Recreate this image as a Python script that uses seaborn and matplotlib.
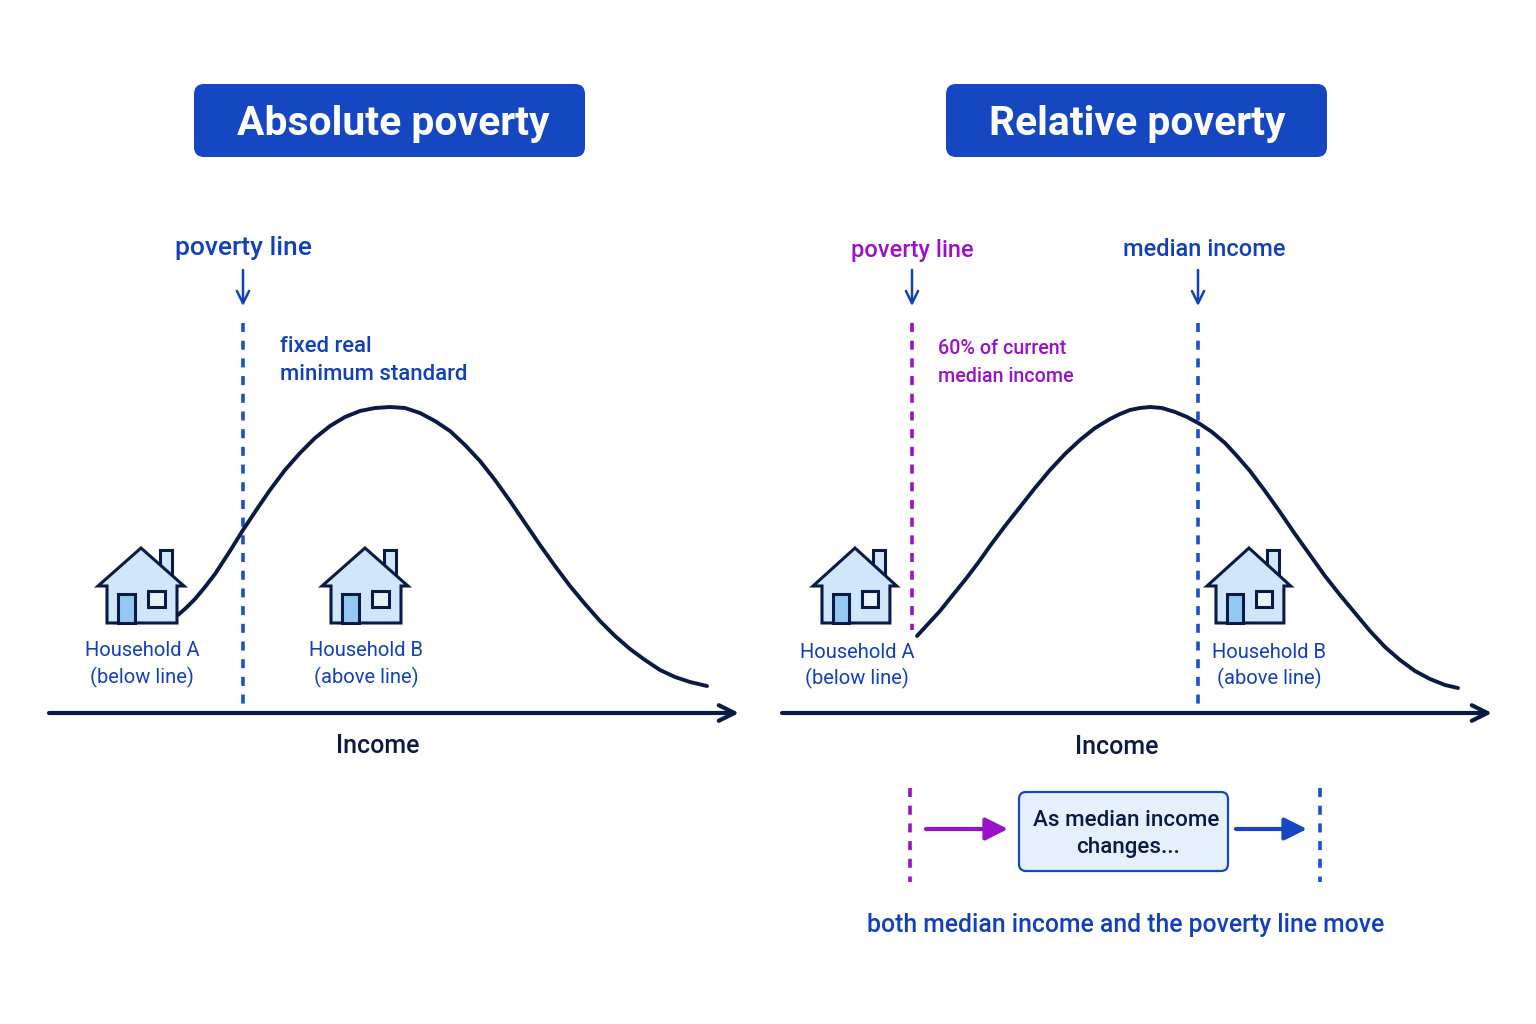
import matplotlib
matplotlib.use("Agg")
import matplotlib.pyplot as plt
import seaborn as sns
from matplotlib.patches import FancyBboxPatch, Polygon, Rectangle

# --- cores ---
NAVY = "#0b1a45"
BLUE = "#1547c0"
DASH_BLUE = "#1a4fd0"
TEXT_BLUE = "#1240b8"
PURPLE = "#9a12c8"
HOUSE_FILL = "#d0e7fb"
DOOR_FILL = "#93c8f3"

# --- dados (em pixels) ---
LEFT_X = [178, 186, 195, 205, 215, 230, 243, 257, 270, 285, 300, 315, 330, 345, 360, 375, 390,
          405, 420, 435, 450, 465, 480, 495, 510, 525, 540, 555, 570, 585, 600, 615,
          630, 645, 660, 675, 690, 707]
LEFT_Y = [615, 608, 599, 587, 574, 551, 530, 509, 490, 470, 453, 438, 426, 417, 411, 408, 407,
          408, 413, 421, 431, 445, 461, 480, 501, 523, 545, 566, 586, 604, 621, 636,
          649, 660, 670, 677, 682, 686]
RIGHT_X = [917, 928, 940, 952, 965, 978, 990, 1005, 1020, 1035, 1050, 1065, 1080, 1095, 1110,
           1120, 1130, 1140, 1150, 1162, 1175, 1187, 1200, 1212, 1225, 1237, 1250, 1265, 1280,
           1295, 1310, 1325, 1340, 1355, 1370, 1385, 1400, 1415, 1430, 1445, 1458]
RIGHT_Y = [636, 624, 611, 596, 580, 563, 546, 526, 507, 488, 470, 454, 440, 428, 419,
           414, 410, 408, 407, 408, 412, 417, 424, 432, 443, 456, 471, 491, 512, 534, 555,
           576, 595, 613, 631, 647, 660, 671, 679, 685, 688]

TITLES = ["Absolute poverty", "Relative poverty"]
HOUSE_LABELS = ["Household A", "(below line)", "Household B", "(above line)"]
INCOME_LABEL = "Income"

sns.set_theme(style="white")
plt.rcParams["font.family"] = ["Roboto", "Noto Sans", "DejaVu Sans"]

fig, ax = plt.subplots(figsize=(15.36, 10.24), dpi=100)
fig.subplots_adjust(0, 0, 1, 1)
ax.set_xlim(0, 1536)
ax.set_ylim(1024, 0)
ax.axis("off")


def title_box(x0, x1, text, cx):
    ax.add_patch(FancyBboxPatch((x0 + 10, 94), x1 - x0 - 20, 53,
                                boxstyle="round,pad=10,rounding_size=10",
                                fc=BLUE, ec="none"))
    ax.text(cx, 124, text, color="white", fontsize=29.3, fontweight="bold",
            ha="center", va="center")


def house(x, y, s=1.0):
    # x, y = canto inferior esquerdo da parede
    line = dict(ec=NAVY, lw=2.2, joinstyle="miter")
    ax.add_patch(Rectangle((x + 53 * s, y - 73), 12 * s, 32, fc=HOUSE_FILL, **line))
    ax.add_patch(Polygon([(x, y), (x, y - 37), (x - 9, y - 37), (x + 34 * s, y - 75),
                          (x + 77 * s, y - 37), (x + 70 * s, y - 37), (x + 70 * s, y)],
                         closed=True, fc=HOUSE_FILL, **line))
    ax.add_patch(Rectangle((x + 11 * s, y - 29), 17 * s, 29, fc=DOOR_FILL, **line))
    ax.add_patch(Rectangle((x + 41 * s, y - 32), 17 * s, 16, fc="#e8f2fd", **line))


def dashed(x, y0, y1, color, lw=2.6):
    ax.plot([x, x], [y0, y1], color=color, lw=lw, dashes=(2.5, 2.4))


def arrow(x0, y0, x1, y1, color, style="->", lw=2.4, scale=18):
    ax.annotate("", xy=(x1, y1), xytext=(x0, y0),
                arrowprops=dict(arrowstyle=style, color=color, lw=lw, mutation_scale=scale,
                                shrinkA=0, shrinkB=0))


def house_label(x, y, first, second):
    ax.text(x, y, first, color=TEXT_BLUE, fontsize=14.5, ha="center", va="center")
    ax.text(x, y + 26, second, color=TEXT_BLUE, fontsize=14.5, ha="center", va="center")


# --- painel esquerdo ---
title_box(194, 585, TITLES[0], 393)
ax.text(243, 248, "poverty line", color=TEXT_BLUE, fontsize=19, fontweight="medium",
        ha="center", va="center")
arrow(243, 270, 243, 306, TEXT_BLUE, lw=1.8, scale=22)
dashed(243, 323, 713, DASH_BLUE)
ax.text(280, 346, "fixed real", color=TEXT_BLUE, fontsize=15.9, fontweight="medium", va="center")
ax.text(280, 375, "minimum standard", color=TEXT_BLUE, fontsize=15.9, fontweight="medium", va="center")
sns.lineplot(x=LEFT_X, y=LEFT_Y, ax=ax, color=NAVY, linewidth=2.8, sort=False, errorbar=None)
house(107, 623)
house(331, 623)
house_label(142, 651, HOUSE_LABELS[0], HOUSE_LABELS[1])
house_label(366, 651, HOUSE_LABELS[2], HOUSE_LABELS[3])
arrow(49, 713, 739, 713, NAVY, lw=3, scale=28)
ax.text(378, 746, INCOME_LABEL, color=NAVY, fontsize=18, fontweight="medium", ha="center", va="center")

# --- painel direito ---
title_box(946, 1327, TITLES[1], 1137)
ax.text(912, 250, "poverty line", color=PURPLE, fontsize=17, fontweight="medium", ha="center", va="center")
ax.text(1204, 250, "median income", color=TEXT_BLUE, fontsize=17, fontweight="medium", ha="center", va="center")
arrow(912, 270, 912, 306, TEXT_BLUE, lw=1.8, scale=22)
arrow(1198, 270, 1198, 306, TEXT_BLUE, lw=1.8, scale=22)
dashed(912, 323, 630, PURPLE)
dashed(1198, 323, 713, DASH_BLUE)
ax.text(938, 348, "60% of current", color=PURPLE, fontsize=14.2, fontweight="medium", va="center")
ax.text(938, 377, "median income", color=PURPLE, fontsize=14.2, fontweight="medium", va="center")
sns.lineplot(x=RIGHT_X, y=RIGHT_Y, ax=ax, color=NAVY, linewidth=2.8, sort=False, errorbar=None)
house(822, 623, 0.97)
house(1216, 623, 0.97)
house_label(857, 652, HOUSE_LABELS[0], HOUSE_LABELS[1])
house_label(1269, 652, HOUSE_LABELS[2], HOUSE_LABELS[3])
arrow(782, 713, 1492, 713, NAVY, lw=3, scale=28)
ax.text(1117, 747, INCOME_LABEL, color=NAVY, fontsize=18, fontweight="medium", ha="center", va="center")

# --- caixa de baixo ---
dashed(910, 788, 882, PURPLE)
dashed(1320, 788, 882, DASH_BLUE)
arrow(926, 829, 1008, 829, PURPLE, style="-|>", lw=3, scale=34)
arrow(1236, 829, 1307, 829, BLUE, style="-|>", lw=3, scale=34)
ax.add_patch(FancyBboxPatch((1026, 799), 195, 65, boxstyle="round,pad=7,rounding_size=7",
                            fc="#e6f0fc", ec=BLUE, lw=1.6))
ax.text(1126, 820, "As median income", color=NAVY, fontsize=16.1, fontweight="medium", ha="center", va="center")
ax.text(1128, 848, "changes...", color=NAVY, fontsize=16.1, fontweight="medium", ha="center", va="center")
ax.text(1126, 925, "both median income and the poverty line move", color=TEXT_BLUE, fontsize=17.8,
        fontweight="medium", ha="center", va="center")

fig.savefig("out.png", dpi=100)
